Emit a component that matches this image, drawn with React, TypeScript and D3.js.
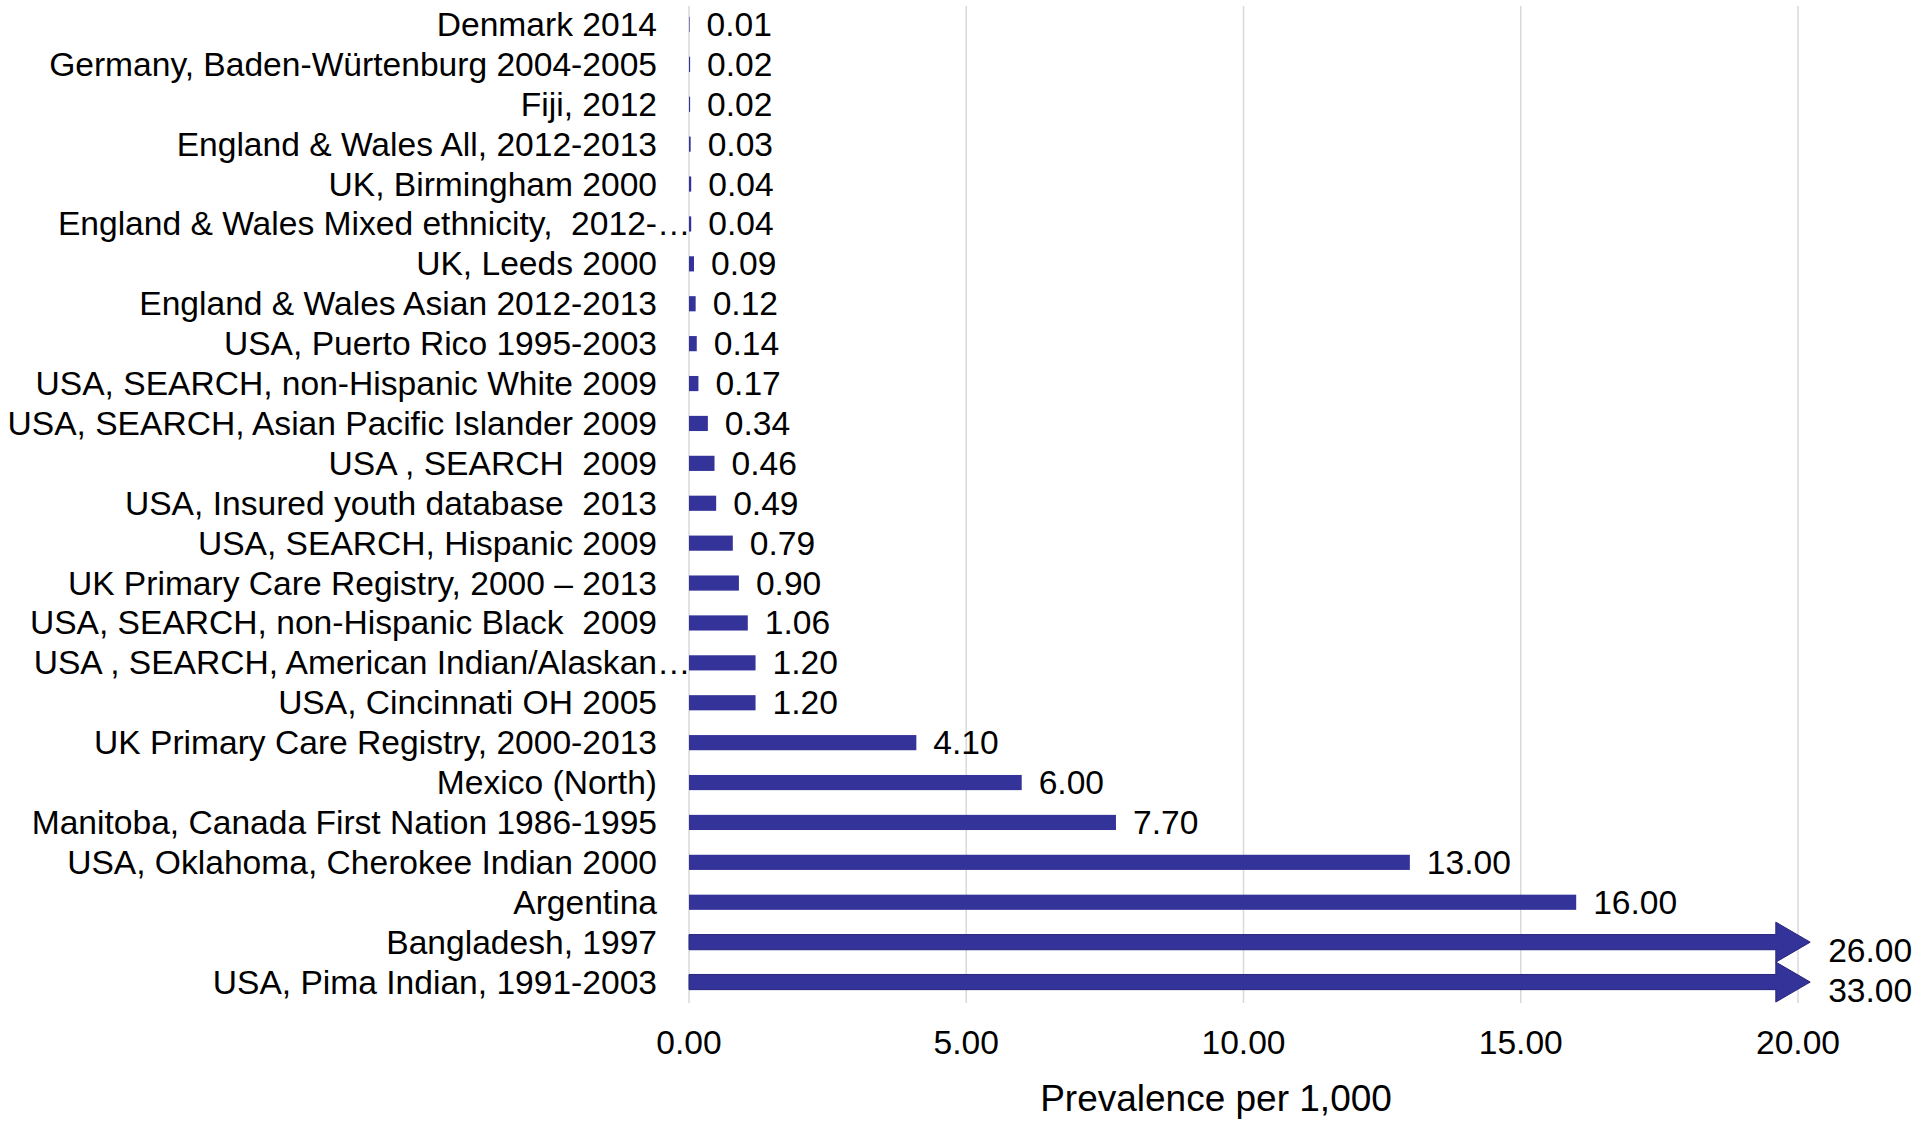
import React from "react";
import * as d3 from "d3";

const categories: string[] = [
  "Denmark 2014",
  "Germany, Baden-Würtenburg 2004-2005",
  "Fiji, 2012",
  "England & Wales All, 2012-2013",
  "UK, Birmingham 2000",
  "England & Wales Mixed ethnicity,  2012-…",
  "UK, Leeds 2000",
  "England & Wales Asian 2012-2013",
  "USA, Puerto Rico 1995-2003",
  "USA, SEARCH, non-Hispanic White 2009",
  "USA, SEARCH, Asian Pacific Islander 2009",
  "USA , SEARCH  2009",
  "USA, Insured youth database  2013",
  "USA, SEARCH, Hispanic 2009",
  "UK Primary Care Registry, 2000 – 2013",
  "USA, SEARCH, non-Hispanic Black  2009",
  "USA , SEARCH, American Indian/Alaskan…",
  "USA, Cincinnati OH 2005",
  "UK Primary Care Registry, 2000-2013",
  "Mexico (North)",
  "Manitoba, Canada First Nation 1986-1995",
  "USA, Oklahoma, Cherokee Indian 2000",
  "Argentina",
  "Bangladesh, 1997",
  "USA, Pima Indian, 1991-2003",
];

const prevalence: number[] = [
  0.01, 0.02, 0.02, 0.03, 0.04, 0.04, 0.09, 0.12, 0.14, 0.17, 0.34, 0.46, 0.49,
  0.79, 0.9, 1.06, 1.2, 1.2, 4.1, 6.0, 7.7, 13.0, 16.0, 26.0, 33.0,
];

const xTicks: number[] = [0, 5, 10, 15, 20];
const axisTitle = "Prevalence per 1,000";
const axisMax = 20;
const truncateAt = 19.6;
const arrowTipAt = 20.22;

const FONT = "'Liberation Sans', Arial, sans-serif";
const BAR = "#333399";
const FS = 33.6;

export default function App() {
  const W = 1920;
  const H = 1125;
  const x = d3.scaleLinear().domain([0, axisMax]).range([689, 1798]);
  const y = d3
    .scaleBand<string>()
    .domain(categories)
    .range([4.5, 1002])
    .paddingInner(0.62)
    .paddingOuter(0.31);
  const bw = y.bandwidth();
  const fmt = d3.format(".2f");
  const labelRight = 657;

  return (
    <svg
      width={W}
      height={H}
      style={{ position: "absolute", left: 0, top: 0, background: "#fff", display: "block" }}
      fontFamily={FONT}
    >
      <rect x={0} y={0} width={W} height={H} fill="#fff" />
      {xTicks.map((t) => (
        <line
          key={"g" + t}
          x1={x(t)}
          x2={x(t)}
          y1={6}
          y2={1003}
          stroke="#d9d9d9"
          strokeWidth={1.5}
        />
      ))}
      {categories.map((c, i) => {
        const v = prevalence[i];
        const yc = (y(c) as number) + bw / 2;
        const x0 = x(0);
        if (v > axisMax) {
          const xb = x(truncateAt);
          const xt = x(arrowTipAt);
          const hh = bw / 2;
          const ah = 20;
          const pts = [
            [x0, yc - hh],
            [xb, yc - hh],
            [xb, yc - ah],
            [xt, yc],
            [xb, yc + ah],
            [xb, yc + hh],
            [x0, yc + hh],
          ]
            .map((p) => p.join(","))
            .join(" ");
          return (
            <g key={c}>
              <polygon points={pts} fill={BAR} stroke="#26267a" strokeWidth={1} />
              <text
                x={xt + 18}
                y={yc + 8}
                fontSize={FS}
                dominantBaseline="central"
                fill="#000"
              >
                {fmt(v)}
              </text>
            </g>
          );
        }
        const xe = x(v);
        return (
          <g key={c}>
            <rect x={x0} y={yc - bw / 2} width={Math.max(0, xe - x0)} height={bw} fill={BAR} />
            <text x={xe + 17} y={yc} fontSize={FS} dominantBaseline="central" fill="#000">
              {fmt(v)}
            </text>
          </g>
        );
      })}
      {categories.map((c) => {
        const yc = (y(c) as number) + bw / 2;
        const trunc = c.endsWith("…");
        const main = trunc ? c.slice(0, -1) : c;
        return (
          <g key={"l" + c}>
            <text
              x={labelRight}
              y={yc}
              fontSize={FS}
              textAnchor="end"
              dominantBaseline="central"
              fill="#000"
              style={{ whiteSpace: "pre" }}
            >
              {main}
            </text>
            {trunc && (
              <text x={labelRight} y={yc} fontSize={FS} dominantBaseline="central" fill="#000">
                …
              </text>
            )}
          </g>
        );
      })}
      {xTicks.map((t) => (
        <text
          key={"t" + t}
          x={x(t)}
          y={1042}
          fontSize={FS}
          textAnchor="middle"
          dominantBaseline="central"
          fill="#000"
        >
          {fmt(t)}
        </text>
      ))}
      <text
        x={1216}
        y={1098}
        fontSize={37}
        textAnchor="middle"
        dominantBaseline="central"
        fill="#000"
      >
        {axisTitle}
      </text>
    </svg>
  );
}
